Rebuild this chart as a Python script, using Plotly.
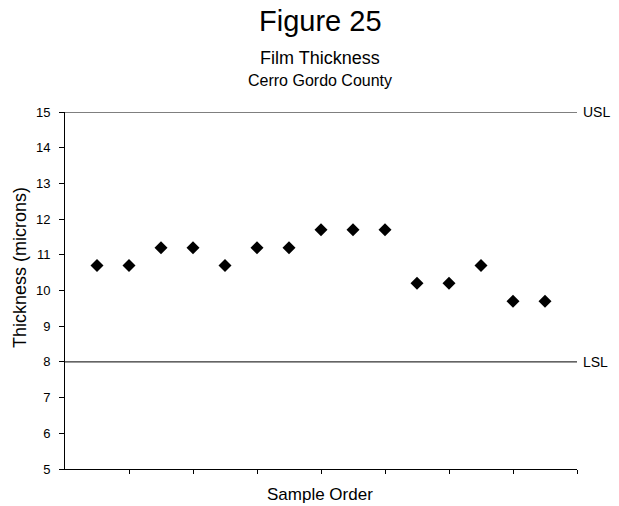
import plotly.graph_objects as go

samples = list(range(1, 16))
thickness = [10.7, 10.7, 11.2, 11.2, 10.7, 11.2, 11.2, 11.7, 11.7, 11.7, 10.2, 10.2, 10.7, 9.7, 9.7]
usl = 15
lsl = 8
y_ticks = list(range(5, 16))
x_ticks = list(range(2, 17, 2))

# page body has an 8px default margin; lay the figure out in reference pixels
OFF = 8
W, H = 619 - OFF, 506 - OFF
L, R, T, B = 65 - OFF, 42, 112 - OFF, 37
PW, PH = W - L - R, H - T - B

def py(pix):
    return (H - B - (pix - OFF)) / PH

def px(pix):
    return ((pix - OFF) - L) / PW

FONT = "Liberation Sans, Arial, sans-serif"

fig = go.Figure()
fig.add_trace(go.Scatter(
    x=samples, y=thickness, mode="markers",
    marker=dict(symbol="diamond", size=10, color="black", line=dict(width=0)),
    showlegend=False, hoverinfo="skip",
))

for val, name in [(usl, "USL"), (lsl, "LSL")]:
    fig.add_shape(type="line", xref="x", yref="y", x0=0, x1=16, y0=val, y1=val,
                  line=dict(color="black", width=1))
    fig.add_annotation(x=16, y=val, xref="x", yref="y", text=name, showarrow=False,
                       xanchor="left", yanchor="middle", xshift=4,
                       font=dict(family=FONT, size=14, color="black"))

annots = [
    ("Figure 25", 21, 29),
    ("Film Thickness", 58, 18),
    ("Cerro Gordo County", 80, 16),
    ("Sample Order", 494, 17),
]
for text, ypix, size in annots:
    fig.add_annotation(x=px(320), y=py(ypix), xref="paper", yref="paper", text=text,
                       showarrow=False, xanchor="center", yanchor="middle",
                       font=dict(family=FONT, size=size, color="black"))

fig.add_annotation(x=px(20), y=py(268), xref="paper", yref="paper",
                   text="Thickness (microns)", showarrow=False, textangle=-90,
                   xanchor="center", yanchor="middle",
                   font=dict(family=FONT, size=18, color="black"))

fig.update_xaxes(range=[0, 16], showline=True, linecolor="black", linewidth=1,
                 tickmode="array", tickvals=x_ticks, ticks="outside", ticklen=4,
                 tickcolor="black", showticklabels=False, showgrid=False, zeroline=False)
fig.update_yaxes(range=[5, 15], showline=True, linecolor="black", linewidth=1,
                 tickmode="array", tickvals=y_ticks, ticks="outside", ticklen=5,
                 tickcolor="black", showgrid=False, zeroline=False,
                 ticklabelstandoff=6,
                 tickfont=dict(family=FONT, size=13, color="black"))

fig.update_layout(width=W, height=H, margin=dict(l=L, r=R, t=T, b=B),
                  paper_bgcolor="white", plot_bgcolor="white", showlegend=False)

fig.write_html("out.html")
